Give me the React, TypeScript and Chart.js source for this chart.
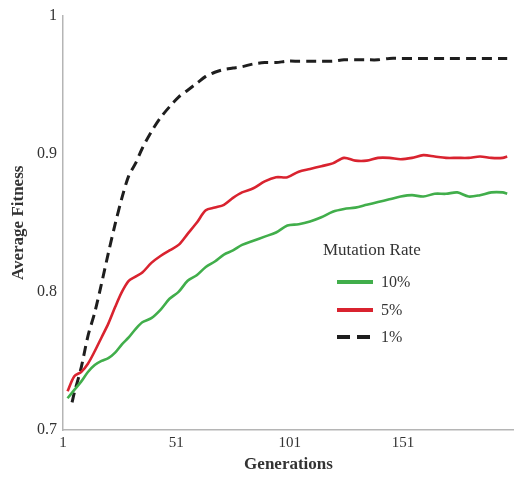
import React, { useEffect, useRef } from "react";
import { Chart, registerables } from "chart.js";

Chart.register(...registerables);

const generations = [3, 6, 9, 12, 15, 18, 21, 24, 27, 30, 33, 36, 40, 44, 48, 52, 56, 60, 64, 68, 72, 76, 80, 85, 90, 95, 100, 105, 110, 115, 120, 125, 130, 135, 140, 145, 150, 155, 160, 165, 170, 175, 180, 185, 190, 195, 197];

const rate10 = [0.723, 0.729, 0.735, 0.742, 0.747, 0.75, 0.752, 0.756, 0.762, 0.767, 0.773, 0.778, 0.781, 0.787, 0.795, 0.8, 0.808, 0.812, 0.818, 0.822, 0.827, 0.83, 0.834, 0.837, 0.84, 0.843, 0.848, 0.849, 0.851, 0.854, 0.858, 0.86, 0.861, 0.863, 0.865, 0.867, 0.869, 0.87, 0.869, 0.871, 0.871, 0.872, 0.869, 0.87, 0.872, 0.872, 0.871];

const rate5 = [0.728, 0.739, 0.742, 0.748, 0.757, 0.767, 0.777, 0.789, 0.8, 0.808, 0.811, 0.814, 0.821, 0.826, 0.83, 0.834, 0.842, 0.85, 0.859, 0.861, 0.863, 0.868, 0.872, 0.875, 0.88, 0.883, 0.883, 0.887, 0.889, 0.891, 0.893, 0.897, 0.895, 0.895, 0.897, 0.897, 0.896, 0.897, 0.899, 0.898, 0.897, 0.897, 0.897, 0.898, 0.897, 0.897, 0.898];

const rate1 = [null, 0.727, 0.745, 0.768, 0.785, 0.806, 0.828, 0.849, 0.868, 0.884, 0.893, 0.904, 0.916, 0.926, 0.934, 0.941, 0.946, 0.951, 0.956, 0.959, 0.961, 0.962, 0.963, 0.965, 0.966, 0.966, 0.967, 0.967, 0.967, 0.967, 0.967, 0.968, 0.968, 0.968, 0.968, 0.969, 0.969, 0.969, 0.969, 0.969, 0.969, 0.969, 0.969, 0.969, 0.969, 0.969, 0.969];

const rate1Start = { x: 5, y: 0.72 };

const xTicks = [1, 51, 101, 151];
const yTicks = [0.7, 0.8, 0.9, 1];

const seriesLabels = ["10%", "5%", "1%"];
const legendTitle = "Mutation Rate";

const GREEN = "#41ae4b";
const RED = "#d9232f";
const BLACK = "#1e1e1e";
const SERIF = "'Liberation Serif', 'DejaVu Serif', serif";

const legendPlugin = {
  id: "insideLegend",
  afterDraw(chart: any) {
    const ctx = chart.ctx;
    ctx.save();
    ctx.fillStyle = "#333";
    ctx.font = `17px ${SERIF}`;
    ctx.textBaseline = "middle";
    ctx.textAlign = "left";
    ctx.fillText(legendTitle, 323, 251);
    const rows = [
      { y: 282, color: GREEN, dash: [] as number[] },
      { y: 310, color: RED, dash: [] as number[] },
      { y: 337, color: BLACK, dash: [13, 7] },
    ];
    rows.forEach((r, i) => {
      ctx.beginPath();
      ctx.setLineDash(r.dash);
      ctx.strokeStyle = r.color;
      ctx.lineWidth = 4;
      ctx.lineCap = "butt";
      ctx.moveTo(337, r.y);
      ctx.lineTo(373, r.y);
      ctx.stroke();
      ctx.setLineDash([]);
      ctx.fillStyle = "#333";
      ctx.font = `16px ${SERIF}`;
      ctx.fillText(seriesLabels[i], 381, r.y + 1);
    });
    ctx.restore();
  },
};

export default function App() {
  const canvasRef = useRef<HTMLCanvasElement | null>(null);

  useEffect(() => {
    if (!canvasRef.current) return;
    const toPoints = (vals: (number | null)[]) =>
      generations.map((g, i) => ({ x: g, y: vals[i] }));
    const blackPts = [rate1Start, ...toPoints(rate1).filter((p) => p.y !== null)];

    const chart = new Chart(canvasRef.current, {
      type: "line",
      data: {
        datasets: [
          {
            label: seriesLabels[0],
            data: toPoints(rate10) as any,
            borderColor: GREEN,
            borderWidth: 2.6,
            pointRadius: 0,
            tension: 0.3,
            fill: false,
          },
          {
            label: seriesLabels[1],
            data: toPoints(rate5) as any,
            borderColor: RED,
            borderWidth: 2.6,
            pointRadius: 0,
            tension: 0.3,
            fill: false,
          },
          {
            label: seriesLabels[2],
            data: blackPts as any,
            borderColor: BLACK,
            borderWidth: 3,
            borderDash: [10, 6],
            pointRadius: 0,
            tension: 0.3,
            fill: false,
          },
        ],
      },
      options: {
        animation: false,
        responsive: false,
        maintainAspectRatio: false,
        layout: { padding: { left: 0, top: 15, right: 0, bottom: 0 } },
        plugins: {
          legend: { display: false },
          tooltip: { enabled: false },
        },
        scales: {
          x: {
            type: "linear",
            min: 1,
            max: 200,
            grid: { display: false, drawTicks: false },
            border: { display: true, color: "#b5b5b5", width: 1.5 },
            afterBuildTicks: (s: any) => {
              s.ticks = xTicks.map((v) => ({ value: v }));
            },
            afterFit: (s: any) => {
              s.height = 47;
            },
            ticks: {
              color: "#333",
              padding: 4,
              maxRotation: 0,
              font: { family: SERIF, size: 15 },
              callback: (v: any) => String(v),
            },
            title: {
              display: true,
              text: "Generations",
              color: "#333",
              font: { family: SERIF, size: 17, weight: "bold" },
              padding: { top: 0, bottom: 2 },
            },
          },
          y: {
            type: "linear",
            min: 0.7,
            max: 1,
            grid: { display: false, drawTicks: false },
            border: { display: true, color: "#b5b5b5", width: 1.5 },
            afterBuildTicks: (s: any) => {
              s.ticks = yTicks.map((v) => ({ value: v }));
            },
            afterFit: (s: any) => {
              s.width = 63;
            },
            ticks: {
              color: "#333",
              padding: 6,
              font: { family: SERIF, size: 16 },
              callback: (v: any) => String(Math.round(v * 10) / 10),
            },
            title: {
              display: true,
              text: "Average Fitness",
              color: "#333",
              font: { family: SERIF, size: 17, weight: "bold" },
              padding: { top: 8, bottom: 0 },
            },
          },
        },
      },
      plugins: [legendPlugin],
    });
    return () => chart.destroy();
  }, []);

  return (
    <div style={{ position: "fixed", left: 0, top: 0, width: 514, height: 477, background: "#fff" }}>
      <canvas ref={canvasRef} width={514} height={477} style={{ display: "block" }} />
    </div>
  );
}
